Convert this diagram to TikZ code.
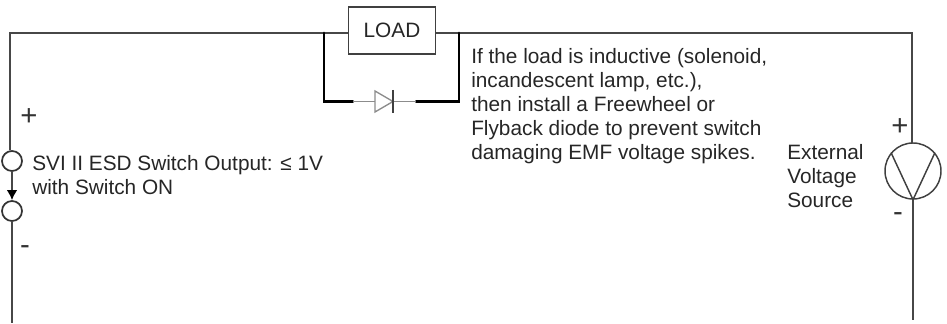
\documentclass[tikz,border=0pt]{standalone}
\usepackage{fontspec}
\setmainfont{Liberation Sans}
\usetikzlibrary{arrows.meta}

\tikzset{
	wire/.style = {line width=0.13em, draw=black!72},
	bold wire/.style = {line width=0.22em, draw=black, line cap=round},
	thin wire/.style = {line width=0.06em, draw=black!45},
	contact/.style = {circle, draw=black!80, line width=0.13em, minimum size=15pt, inner sep=0pt},
	note/.style = {align=left, anchor=north west, inner sep=0pt, text=black!85, font=\fontsize{15.6}{18}\selectfont},
	sign/.style = {inner sep=0pt, text=black!80, font=\fontsize{22}{22}\selectfont}
}

\begin{document}
\begin{tikzpicture}[x=0.75pt, y=-0.75pt]
	\useasboundingbox (0,0) rectangle (947,324);

	% load branch
	\node[draw=black!75, line width=0.11em, minimum width=65pt, minimum height=35pt, inner sep=0pt, font=\fontsize{15.6}{18}\selectfont, text=black!85] (load) at (392,30.5) {LOAD};
	\coordinate (top left) at (10,33);
	\coordinate (top right) at (912,33);
	\coordinate (tap left) at (324,33);
	\coordinate (tap right) at (459,33);
	\draw[wire] (load.west |- top left) -- (top left) -- (10,150) coordinate (sw in);
	\draw[wire] (load.east |- top right) -- (top right) -- (912,143) coordinate (src in);

	% freewheel diode
	\coordinate (diode a) at (375,101.5);
	\coordinate (diode k) at (393,101.5);
	\coordinate (bold a) at (353,101.5);
	\coordinate (bold k) at (416,101.5);
	\draw[bold wire] (tap left) -- (324,101.5) -- (bold a);
	\draw[bold wire] (tap right) -- (459,101.5) -- (bold k);
	\draw[thin wire] (bold a) -- (diode a);
	\draw[thin wire] (diode k) -- (bold k);
	\draw[line width=0.1em, draw=black!45] (375,91) -- (393,101.5) -- (375,112) -- cycle;
	\draw[line width=0.14em, draw=black!75] (393,90) -- (393,113);

	% switch
	\node[contact] (sw top) at (12,161) {};
	\node[contact] (sw bot) at (12,211) {};
	\coordinate (sw end) at (12,323);
	\draw[wire] (sw in) -- (sw top);
	\draw[wire] (sw bot) -- (sw end);
	\draw[wire, -{Latex[length=7.5pt, width=8pt, black]}] (sw top) -- (sw bot);
	\node[sign] at (29,117) {+};
	\node[sign] at (25,250) {-};

	% source
	\node[circle, draw=black!75, line width=0.11em, minimum size=42pt, inner sep=0pt] (src) at (913,171) {};
	\coordinate (src end) at (913,320);
	\draw[wire] (src in) -- (src);
	\draw[wire] (src) -- (src end);
	\draw[line width=0.11em, draw=black!75] (src.south) -- (src.140);
	\draw[line width=0.11em, draw=black!75] (src.south) -- (src.40);
	\node[sign] at (900,127) {+};
	\node[sign] at (898,217) {-};

	% notes
	\node[note] (sw text) at (32,155) {SVI II ESD Switch Output: ≤ 1V\\with Switch ON};
	\node[note] (hint) at (471,48) {If the load is inductive (solenoid,\\incandescent lamp, etc.),\\then install a Freewheel or\\Flyback diode to prevent switch\\damaging EMF voltage spikes.};
	\node[note] (src text) at (787,144) {External\\Voltage\\Source};
\end{tikzpicture}
\end{document}
